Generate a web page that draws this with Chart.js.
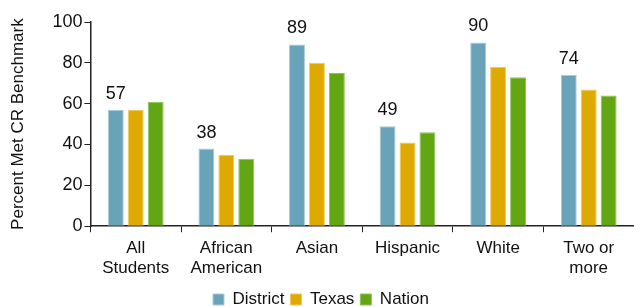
<!DOCTYPE html>
<html>
<head>
<meta charset="utf-8">
<script src="https://cdn.jsdelivr.net/npm/chart.js@4"></script>
<style>
  html, body { margin: 0; padding: 0; background: #fff; }
  #wrap { width: 634px; height: 307px; }
</style>
</head>
<body>
<div id="wrap"><canvas id="chart"></canvas></div>
<script>
var categories = [["All", "Students"], ["African", "American"], "Asian", "Hispanic", "White", ["Two or", "more"]];
var district = [57, 38, 89, 49, 90, 74];
var texas = [57, 35, 80, 41, 78, 67];
var nation = [61, 33, 75, 46, 73, 64];
var yTicks = [0, 20, 40, 60, 80, 100];

var family = "'Liberation Sans', Arial, sans-serif";

// draw the district values above its bars
var valueLabels = {
  id: "valueLabels",
  afterDatasetsDraw: function (chart) {
    var ctx = chart.ctx;
    var meta = chart.getDatasetMeta(0);
    ctx.save();
    ctx.font = "18px " + family;
    ctx.fillStyle = "#111";
    ctx.textAlign = "center";
    ctx.textBaseline = "alphabetic";
    meta.data.forEach(function (bar, i) {
      ctx.fillText(district[i], bar.x, bar.y - 11);
    });
    ctx.restore();
  }
};

var font = { family: family, size: 17 };

var ctx = document.getElementById("chart").getContext("2d");
var chart = new Chart(ctx, {
  type: "bar",
  data: {
    labels: categories,
    datasets: [
      { label: "District", data: district, backgroundColor: "#68a3ba", borderColor: "#a9cbd8", borderWidth: 1 },
      { label: "Texas", data: texas, backgroundColor: "#dea900", borderColor: "#ecc95a", borderWidth: 1 },
      { label: "Nation", data: nation, backgroundColor: "#62a713", borderColor: "#8fc25a", borderWidth: 1 }
    ]
  },
  options: {
    responsive: true,
    maintainAspectRatio: false,
    animation: false,
    layout: { padding: { top: 22, right: 0, left: 8, bottom: -7 } },
    datasets: { bar: { categoryPercentage: 0.66, barPercentage: 0.8 } },
    scales: {
      x: {
        offset: true,
        grid: { display: true, offset: true, drawOnChartArea: false, drawTicks: true, tickLength: 6, color: "#222" },
        border: { display: true, color: "#222", width: 1.5 },
        ticks: { color: "#111", font: font, padding: 6, maxRotation: 0, autoSkip: false }
      },
      y: {
        min: 0,
        max: 100,
        afterBuildTicks: function (axis) {
          axis.ticks = yTicks.map(function (v) { return { value: v }; });
        },
        grid: { display: true, drawOnChartArea: false, drawTicks: true, tickLength: 6, color: "#222" },
        border: { display: true, color: "#222", width: 1.5 },
        ticks: { color: "#111", font: { family: family, size: 18 }, padding: 2 },
        title: { display: true, text: "Percent Met CR Benchmark", color: "#111", font: { family: family, size: 17 }, padding: { top: 0, bottom: 22 } }
      }
    },
    plugins: {
      legend: {
        position: "bottom",
        maxHeight: 29,
        labels: { boxWidth: 11, boxHeight: 11, color: "#111", font: font, padding: 6 }
      },
      tooltip: { enabled: false }
    }
  },
  plugins: [valueLabels]
});
</script>
</body>
</html>
